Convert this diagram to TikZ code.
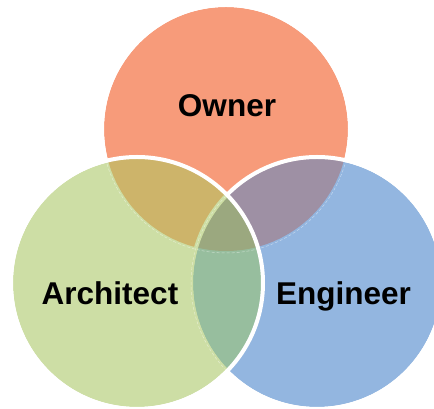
\documentclass[tikz,border=0pt]{standalone}
\usepackage{fontspec}
\setmainfont{Liberation Sans}
\definecolor{cO}{RGB}{247,155,122}
\definecolor{cA}{RGB}{205,222,165}
\definecolor{cE}{RGB}{147,182,224}
\definecolor{cOA}{RGB}{205,180,106}
\definecolor{cOE}{RGB}{158,144,164}
\definecolor{cAE}{RGB}{151,190,158}
\definecolor{cT}{RGB}{155,168,127}
\tikzset{
  lbl/.style={font=\bfseries\fontsize{31.5}{36}\selectfont, inner sep=0pt, anchor=base},
  ring/.style={draw=white, line width=4pt},
  seam/.style={draw=white, opacity=0.45, line width=0.5pt, dash pattern=on 3pt off 2pt}
}
\begin{document}
\begin{tikzpicture}[x=1pt,y=1pt]
\useasboundingbox (0,0) rectangle (434,409);
\coordinate (O) at (226,280);
\coordinate (A) at (137,126);
\coordinate (E) at (317,126);
% Owner
\fill[cO] (O) circle (122pt);
\draw[ring] (O) circle (124pt);
% Engineer
\fill[cE] (E) circle (124pt);
\begin{scope}
  \clip (E) circle (124pt);
  \fill[cOE] (O) circle (122pt);
  \draw[seam] (O) circle (124pt);
\end{scope}
\draw[ring] (E) circle (126pt);
% Architect
\fill[cA] (A) circle (124pt);
\begin{scope}
  \clip (A) circle (124pt);
  \fill[cOA] (O) circle (122pt);
  \fill[cAE] (E) circle (124pt);
  \begin{scope}
    \clip (E) circle (124pt);
    \fill[cT] (O) circle (122pt);
  \end{scope}
  \draw[cA, line width=4pt] (E) circle (126pt);
  \draw[seam] (O) circle (124pt);
  \draw[seam] (E) circle (126pt);
\end{scope}
\draw[ring] (A) circle (126pt);
% labels
\node[lbl] (owner) at (227,292) {Owner};
\node[lbl] (architect) at (110,104) {Architect};
\node[lbl] (engineer) at (343.5,104) {Engineer};
\end{tikzpicture}
\end{document}
